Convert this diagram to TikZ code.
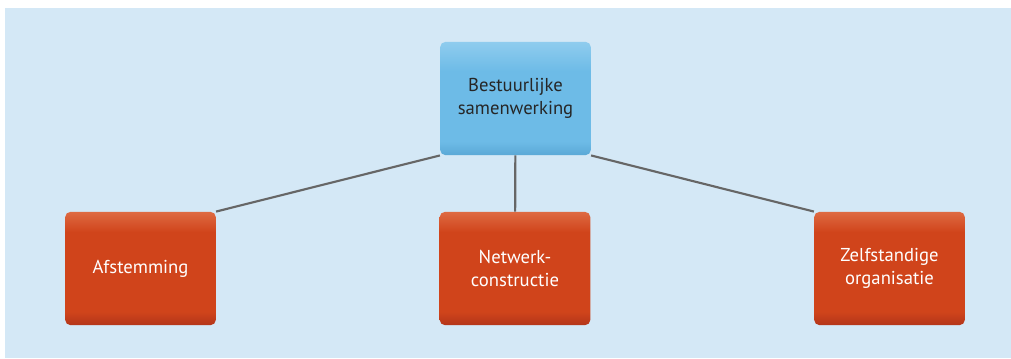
\documentclass[tikz,border=0pt]{standalone}
\usepackage{fontspec}
\setmainfont{PT Sans}
\usetikzlibrary{calc}
\definecolor{paneel}{HTML}{D4E8F6}
\definecolor{blauwtop}{HTML}{8FCCEE}
\definecolor{blauwmid}{HTML}{6DBBE7}
\definecolor{blauwbot}{HTML}{5AA8D6}
\definecolor{oranjetop}{HTML}{DE6A42}
\definecolor{oranjemid}{HTML}{D0441B}
\definecolor{oranjebot}{HTML}{B3361A}
\definecolor{lijn}{HTML}{666666}
\pgfdeclareverticalshading{blauwvlak}{100bp}{color(0bp)=(blauwbot); color(25bp)=(blauwbot);
  color(31bp)=(blauwmid); color(62bp)=(blauwmid); color(75bp)=(blauwtop); color(100bp)=(blauwtop)}
\pgfdeclareverticalshading{oranjevlak}{100bp}{color(0bp)=(oranjebot); color(25bp)=(oranjebot);
  color(31bp)=(oranjemid); color(66bp)=(oranjemid); color(75bp)=(oranjetop); color(100bp)=(oranjetop)}
\tikzset{
  blok/.style={rectangle, rounded corners=4pt, minimum width=113pt, minimum height=85pt,
    inner sep=0pt, align=center, font=\fontsize{14}{17.5}\selectfont},
  hoofdblok/.style={blok, shading=blauwvlak, text=black!85},
  deelblok/.style={blok, shading=oranjevlak, text=white},
  verbinding/.style={draw=lijn, line width=1.6pt}
}

\begin{document}
\begin{tikzpicture}[x=0.75pt, y=-0.75pt]
			%%%%% START %%%%%
			\useasboundingbox (0, 0) rectangle (1011, 358);
			\fill[paneel] (5, 8) rectangle (1011, 358);
			
			\node[hoofdblok] (bestuur) at (515.5, 98.5) {Bestuurlijke\\samenwerking};
			
			\node[deelblok] (afstem) at (140.5, 268.5) {Afstemming};
			\node[deelblok] (netwerk) at (515, 268.5) {Netwerk-\\constructie};
			\node[deelblok] (zelf) at (889.5, 268.5) {Zelfstandige\\organisatie};
			
			\draw[verbinding] (bestuur.south west) -- (afstem.north east);
			\draw[verbinding] (bestuur) -- (netwerk);
			\draw[verbinding] (bestuur.south east) -- (zelf.north west);
			%%%%% END %%%%%
		\end{tikzpicture}
\end{document}
